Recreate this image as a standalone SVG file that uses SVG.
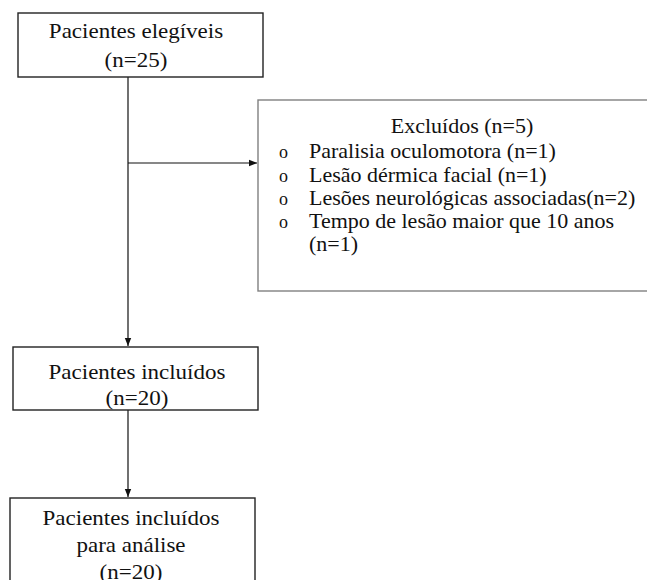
<svg xmlns="http://www.w3.org/2000/svg" width="647" height="580" viewBox="0 0 647 580">
<defs>
<style>
.box{fill:#fff;stroke:#222;stroke-width:1.4}
.gbox{fill:#fff;stroke:#808080;stroke-width:1.4}
.ln{stroke:#111;stroke-width:1.2;fill:none}
</style>
<marker id="ah" markerWidth="8" markerHeight="8" viewBox="0 0 8 8" refX="8" refY="4" orient="auto" markerUnits="userSpaceOnUse">
<path d="M0,0.8 L8,4 L0,7.2 Z" fill="#111"/>
</marker>
</defs>
<rect width="647" height="580" fill="#fff"/>
<g id="connectors">
<line class="ln" x1="128" y1="77" x2="128" y2="346" marker-end="url(#ah)"/>
<line class="ln" x1="128" y1="163" x2="257" y2="163" marker-end="url(#ah)"/>
<line class="ln" x1="128" y1="410" x2="128" y2="497" marker-end="url(#ah)"/>
</g>
<g font-family="'Liberation Serif', 'Times New Roman', serif" font-size="20" fill="#111">
<g id="n1">
<rect class="box" x="18" y="13" width="245" height="64"/>
<g transform="translate(136,0) scale(1.15,1)" text-anchor="middle">
<text x="0" y="38">Pacientes elegíveis</text>
<text x="0" y="67">(n=25)</text>
</g>
</g>
<g id="excl">
<rect class="gbox" x="258" y="100" width="395" height="191"/>
<text transform="translate(462,0) scale(1.1,1)" x="0" y="133" text-anchor="middle">Excluídos (n=5)</text>
<g font-size="18">
<text x="279" y="158">o</text>
<text x="279" y="182">o</text>
<text x="279" y="205">o</text>
<text x="279" y="228">o</text>
</g>
<g transform="translate(309,0) scale(1.1,1)">
<text x="0" y="158">Paralisia oculomotora (n=1)</text>
<text x="0" y="182">Lesão dérmica facial (n=1)</text>
<text x="0" y="205">Lesões neurológicas associadas(n=2)</text>
<text x="0" y="228">Tempo de lesão maior que 10 anos</text>
<text x="0" y="251">(n=1)</text>
</g>
</g>
<g id="n2">
<rect class="box" x="13" y="347" width="245" height="63"/>
<g transform="translate(137,0) scale(1.15,1)" text-anchor="middle">
<text x="0" y="379">Pacientes incluídos</text>
<text x="0" y="405">(n=20)</text>
</g>
</g>
<g id="n3">
<rect class="box" x="10" y="498" width="245" height="100"/>
<g transform="translate(131,0) scale(1.15,1)" text-anchor="middle">
<text x="0" y="525">Pacientes incluídos</text>
<text x="0" y="552">para análise</text>
<text x="0" y="579">(n=20)</text>
</g>
</g>
</g>
</svg>
